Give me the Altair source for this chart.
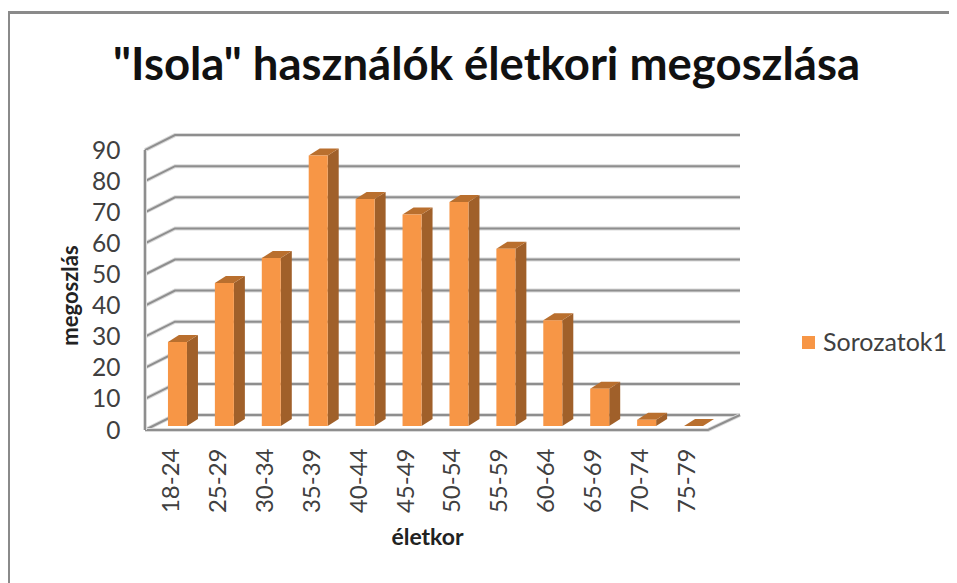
import altair as alt
import pandas as pd

categories = ["18-24","25-29","30-34","35-39","40-44","45-49","50-54","55-59","60-64","65-69","70-74","75-79"]
values = [27,46,54,87,73,68,72,57,34,12,2,0]
y_ticks = [0,10,20,30,40,50,60,70,80,90]
series_name = "Sorozatok1"
title_text = '"Isola" használók életkori megoszlása'
x_title = "életkor"
y_title = "megoszlás"

FONT = "Lato"
FRONT, SIDE, TOP = "#F79646", "#A0602A", "#B96F2E"
GRID, GRID_SOFT, TXT = "#8E8E8E", "#DADADA", "#404040"

# Scale set-up: one slot = one category, y in data units
W, H = 595, 296
SLOT = 563 / 12
UNIT = 3.11
XMAX, YMAX = W / SLOT, H / UNIT
WALL_X, WALL_Y = 30 / SLOT, 15 / UNIT      # depth of the floor
PLANE_X, PLANE_Y = 9 / SLOT, 4 / UNIT      # bar front plane
BAR_W = 19 / SLOT
SIDE_X, SIDE_Y = 11 / SLOT, 7 / UNIT       # bar depth

front, side, top = [], [], []
for i, (c, v) in enumerate(zip(categories, values)):
    x0 = i + 0.5 - BAR_W / 2 + PLANE_X
    x1 = x0 + BAR_W
    b = PLANE_Y
    t = v + PLANE_Y
    front.append(dict(c=c, x=x0, x2=x1, y=b, y2=t, s=series_name))
    side += [dict(c=c, x=x1, y=t, y2=b), dict(c=c, x=x1 + SIDE_X, y=t + SIDE_Y, y2=b + SIDE_Y)]
    top += [dict(c=c, x=x0, y=t, y2=t), dict(c=c, x=x0 + SIDE_X, y=t + SIDE_Y, y2=t),
            dict(c=c, x=x1, y=t + SIDE_Y, y2=t), dict(c=c, x=x1 + SIDE_X, y=t + SIDE_Y, y2=t + SIDE_Y)]

wall = []
for v in y_ticks:
    wall += [dict(g=v, x=0, y=v), dict(g=v, x=WALL_X, y=v + WALL_Y), dict(g=v, x=XMAX, y=v + WALL_Y)]
wall_df = pd.DataFrame(wall)
floor_df = pd.DataFrame([dict(g="f", x=0, y=0), dict(g="f", x=12, y=0), dict(g="f", x=XMAX, y=WALL_Y)])
left_df = pd.DataFrame([dict(g="l", x=0, y=0), dict(g="l", x=0, y=90)])

xs = alt.Scale(domain=[0, XMAX], range=[0, W], nice=False, zero=False)
ys = alt.Scale(domain=[0, YMAX], range=[H, 0], nice=False, zero=False)

label_arr = "[" + ",".join(f"'{c}'" for c in categories) + "]"
x_axis = alt.Axis(values=[i + 0.5 for i in range(12)], labelExpr=f"{label_arr}[floor(datum.value)]",
                  labelAngle=270, labelAlign="right", labelBaseline="middle", labelPadding=18, labelOffset=3,
                  labelFontSize=24, labelColor=TXT, labelFont=FONT, domain=False, ticks=False, grid=False,
                  title=x_title, titleFont=FONT, titleFontSize=23, titleFontWeight="bold", titleColor="#222222",
                  titleX=282, titleY=107, titleAlign="center", titleBaseline="middle")
y_axis = alt.Axis(values=y_ticks, labelFontSize=24.5, labelColor=TXT, labelFont=FONT, labelPadding=25, labelOffset=1,
                  domain=False, ticks=False, grid=False,
                  title=y_title, titleFont=FONT, titleFontSize=22, titleFontWeight="bold", titleColor="#222222",
                  titleX=-75, titleY=161, titleAngle=270, titleAlign="center", titleBaseline="middle")
X = alt.X("x:Q", scale=xs, axis=x_axis)
Y = alt.Y("y:Q", scale=ys, axis=y_axis)

lines = []
for src in (wall_df, floor_df, left_df):
    for col, sw in ((GRID_SOFT, 4), (GRID, 2)):
        lines.append(alt.Chart(src).mark_line(color=col, strokeWidth=sw, clip=False)
                     .encode(x=X, y=Y, detail="g:N", order="x:Q"))

bars = alt.Chart(pd.DataFrame(front)).mark_rect().encode(
    x=X, x2="x2:Q", y=Y, y2="y2:Q",
    color=alt.Color("s:N", scale=alt.Scale(domain=[series_name], range=[FRONT]),
                    legend=alt.Legend(title=None, orient="none", legendX=651, legendY=196,
                                      symbolType="square", symbolSize=170, symbolStrokeWidth=0,
                                      labelFont=FONT, labelFontSize=25, labelColor=TXT, labelOffset=2)))
sides = alt.Chart(pd.DataFrame(side)).mark_area(color=SIDE).encode(x=X, y=Y, y2="y2:Q", detail="c:N")
tops = alt.Chart(pd.DataFrame(top)).mark_area(color=TOP).encode(x=X, y=Y, y2="y2:Q", detail="c:N")

frame_src = pd.DataFrame({"k": [1]})
frame_left = alt.Chart(frame_src).mark_rule(color="#8A8A8A", strokeWidth=3).encode(
    x=alt.value(-136.5), y=alt.value(-122), y2=alt.value(450))
frame_top = alt.Chart(frame_src).mark_rule(color="#8A8A8A", strokeWidth=3).encode(
    y=alt.value(-121.5), x=alt.value(-137), x2=alt.value(804))

chart = alt.layer(*lines, sides, tops, bars, frame_left, frame_top).properties(
    width=W, height=H,
    padding={"left": 137, "top": 126, "right": 209, "bottom": 153},
    autosize=alt.AutoSizeParams(type="none"),
    background="white",
    title=alt.TitleParams(title_text, font=FONT, fontSize=45.5, fontWeight="bold", color="#111111",
                          anchor="start", frame="group", dx=-32, offset=-79),
).configure_view(stroke=None)

chart.save("out.html", embed_options={"renderer": "svg", "actions": False})
